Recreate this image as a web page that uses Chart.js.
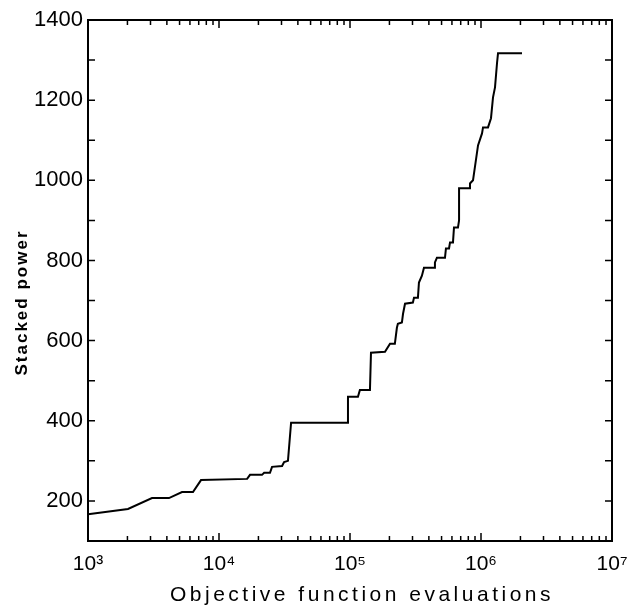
<!DOCTYPE html>
<html>
<head>
<meta charset="utf-8">
<script src="https://cdn.jsdelivr.net/npm/chart.js@4/dist/chart.umd.min.js"></script>
<style>
  body { margin: 0; background: #fff; }
</style>
</head>
<body>
<canvas id="powerChart" width="632" height="608"></canvas>
<script>
// best stacked power found vs. number of objective function evaluations
const evaluations = [1000, 2020, 3080, 4150, 5220, 6330, 7290, 16400, 17250, 21300, 22100, 24500, 25400, 30300, 31400, 33600, 35500, 94900, 96500, 115000, 119000, 142000, 144600, 185000, 202000, 220000, 228000, 232000, 249000, 254000, 263000, 302000, 308000, 330000, 336000, 354000, 367000, 438000, 445000, 461000, 531000, 540000, 570000, 580000, 611000, 622000, 667000, 680000, 680000, 810000, 824000, 869000, 949000, 1018000, 1036000, 1131000, 1192000, 1235000, 1279000, 1325000, 1349000, 2056000]
const stackedPower = [167, 180, 207, 207, 222, 222, 252, 255, 265, 265, 270, 270, 285, 287, 297, 300, 395, 395, 460, 460, 477, 477, 570, 572, 592, 592, 632, 642, 645, 667, 692, 695, 707, 707, 745, 762, 782, 782, 795, 807, 807, 830, 830, 845, 845, 882, 882, 900, 980, 980, 992, 1000, 1087, 1117, 1132, 1132, 1155, 1207, 1232, 1292, 1317, 1317]

const xTickValues = [1e3, 1e4, 1e5, 1e6, 1e7]
const xTickLabels = ['10³', '10⁴', '10⁵', '10⁶', '10⁷']

const points = evaluations.map((x, i) => ({ x: x, y: stackedPower[i] }))

const font = "'Liberation Sans', Arial, sans-serif"

// draws the box and the inward tick marks on all four sides
const frameTicks = {
    id: 'frameTicks',
    beforeDraw: (chart) => {
        const ctx = chart.ctx
        // spaced-out axis titles, nudged like the original
        ;['x', 'y'].forEach(id => {
            const sc = chart.scales[id]
            if (sc._wrapped) return
            const orig = sc.drawTitle
            sc.drawTitle = function () {
                ctx.save()
                ctx.letterSpacing = id === 'x' ? '3.5px' : '2px'
                if (id === 'y') ctx.translate(0, 22)
                else ctx.translate(12, 0)
                orig.call(this)
                ctx.restore()
            }
            sc._wrapped = true
        })
    },
    afterDatasetsDraw: (chart) => {
        const ctx = chart.ctx
        const { left, right, top, bottom } = chart.chartArea
        const xs = chart.scales.x
        const ys = chart.scales.y
        ctx.save()
        ctx.strokeStyle = '#000'
        ctx.lineWidth = 2
        ctx.strokeRect(left, top, right - left, bottom - top)

        ctx.lineWidth = 1.5
        ctx.beginPath()
        for (let v = 100; v <= 1400; v += 100) {
            const py = ys.getPixelForValue(v)
            ctx.moveTo(left, py); ctx.lineTo(left + 7, py)
            ctx.moveTo(right, py); ctx.lineTo(right - 7, py)
        }
        for (let d = 1e3; d < 1e7; d *= 10) {
            for (let m = 1; m <= 10; m++) {
                const px = xs.getPixelForValue(d * m)
                const len = (m === 1 || m === 10) ? 8 : 5
                ctx.moveTo(px, bottom); ctx.lineTo(px, bottom - len)
                ctx.moveTo(px, top); ctx.lineTo(px, top + len)
            }
        }
        ctx.stroke()
        ctx.restore()
    }
}

new Chart('powerChart', {
    type: 'line',
    data: {
        datasets: [{
            data: points,
            borderColor: '#000',
            borderWidth: 2,
            pointRadius: 0,
            tension: 0,
            fill: false
        }]
    },
    options: {
        responsive: false,
        animation: false,
        layout: {
            padding: { left: 12, right: 20, top: 20, bottom: 0 }
        },
        plugins: {
            legend: { display: false },
            tooltip: { enabled: false }
        },
        scales: {
            x: {
                type: 'logarithmic',
                min: 1e3,
                max: 1e7,
                afterBuildTicks: (scale) => {
                    scale.ticks = xTickValues.map(v => ({ value: v }))
                },
                afterFit: (scale) => {
                    scale.height = 67
                    scale.paddingLeft = 0
                    scale.paddingRight = 0
                },
                grid: { display: false, drawTicks: false },
                border: { display: false },
                ticks: {
                    color: '#000',
                    font: { family: font, size: 21 },
                    padding: 11,
                    maxRotation: 0,
                    autoSkip: false,
                    callback: (v) => {
                        const i = xTickValues.indexOf(v)
                        return i >= 0 ? xTickLabels[i] : ''
                    }
                },
                title: {
                    display: true,
                    text: 'Objective function evaluations',
                    color: '#000',
                    font: { family: font, size: 21 },
                    padding: { top: 0, bottom: 0 }
                }
            },
            y: {
                type: 'linear',
                min: 100,
                max: 1400,
                afterFit: (scale) => {
                    scale.width = 76
                    scale.paddingTop = 0
                    scale.paddingBottom = 0
                },
                grid: { display: false, drawTicks: false },
                border: { display: false },
                ticks: {
                    stepSize: 100,
                    color: '#000',
                    font: { family: font, size: 22 },
                    padding: 5,
                    autoSkip: false,
                    callback: (v) => (v % 200 === 0 ? String(v) : '')
                },
                title: {
                    display: true,
                    text: 'Stacked power',
                    color: '#000',
                    font: { family: font, size: 17, weight: 'bold' },
                    padding: { top: 0, bottom: 0 }
                }
            }
        }
    },
    plugins: [frameTicks]
})
</script>
</body>
</html>
